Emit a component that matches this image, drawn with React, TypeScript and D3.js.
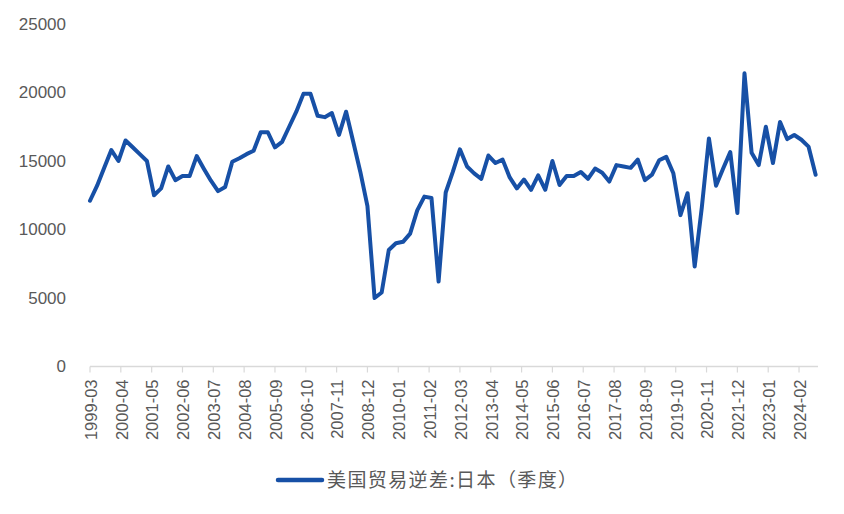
import React from "react";
import * as d3 from "d3";

const startYear = 1999;
const startMonth = 3;
const values: number[] = [
  12100, 13200, 14500, 15800, 15000, 16500, 16000, 15500, 15000, 12500,
  13000, 14600, 13600, 13900, 13900, 15360, 14440, 13560, 12800, 13100,
  14950, 15200, 15500, 15750, 17100, 17100, 16000, 16400, 17500, 18600,
  19900, 19900, 18300, 18200, 18500, 16900, 18600, 16400, 14200, 11700,
  5000, 5400, 8500, 9000, 9100, 9700, 11400, 12400, 12300, 6200,
  12700, 14200, 15850, 14600, 14100, 13700, 15400, 14850, 15100, 13800,
  13000, 13650, 12900, 13950, 12900, 15000, 13250, 13900, 13900, 14200,
  13700, 14450, 14150, 13500, 14700, 14600, 14500, 15100, 13600, 14000,
  15050, 15300, 14100, 11050, 12650, 7300, 11600, 16650, 13200, 14450,
  15650, 11200, 21400, 15600, 14700, 17500, 14850, 17850, 16600, 16900,
  16550, 16050, 14000,
];
const yTicks = [0, 5000, 10000, 15000, 20000, 25000];
const tickStepMonths = 13;
const seriesName = "美国贸易逆差:日本（季度）";

const W = 844;
const H = 514;

function monthLabel(m: number): string {
  const total = startYear * 12 + (startMonth - 1) + m;
  const y = Math.floor(total / 12);
  const mo = (total % 12) + 1;
  return `${y}-${String(mo).padStart(2, "0")}`;
}

export default function App() {
  const lastMonth = (values.length - 1) * 3 + 1;
  const x = d3.scaleLinear().domain([0, lastMonth]).range([90, 818]);
  const y = d3.scaleLinear().domain([0, 25000]).range([366.5, 24]);
  const line = d3
    .line<number>()
    .x((_, i) => x(i * 3))
    .y((d) => y(d))
    .curve(d3.curveLinear);
  const xTicks = d3.range(0, lastMonth, tickStepMonths);
  const axisColor = "#d9d9d9";
  const textColor = "#595959";
  const lineColor = "#1750a6";
  const numFont = "'Liberation Sans', Arial, sans-serif";
  const cjkFont = "'Noto Sans CJK SC', sans-serif";

  return (
    <svg
      width={W}
      height={H}
      style={{ position: "absolute", left: 0, top: 0, background: "#fff" }}
    >
      {yTicks.map((t) => (
        <text
          key={t}
          x={66}
          y={y(t)}
          dy="0.35em"
          textAnchor="end"
          fontSize={17}
          fill={textColor}
          fontFamily={numFont}
        >
          {t}
        </text>
      ))}
      <line x1={x(0)} x2={818} y1={y(0)} y2={y(0)} stroke={axisColor} strokeWidth={1.5} />
      {xTicks.map((m) => (
        <g key={m} transform={`translate(${x(m)},${y(0)})`}>
          <line y1={0} y2={6} stroke={axisColor} strokeWidth={1.2} />
          <text
            transform="translate(1,13) rotate(-90)"
            textAnchor="end"
            dy="0.35em"
            fontSize={16.5}
            fill={textColor}
            fontFamily={numFont}
          >
            {monthLabel(m)}
          </text>
        </g>
      ))}
      <path
        d={line(values) || ""}
        fill="none"
        stroke={lineColor}
        strokeWidth={4}
        strokeLinejoin="round"
        strokeLinecap="round"
      />
      <line x1={278} x2={322} y1={480} y2={480} stroke={lineColor} strokeWidth={4.5} strokeLinecap="round" />
      <text
        x={327}
        y={480}
        dy="0.35em"
        fontSize={19}
        letterSpacing={1.4}
        fill={textColor}
        fontFamily={cjkFont}
      >
        {seriesName}
      </text>
    </svg>
  );
}
